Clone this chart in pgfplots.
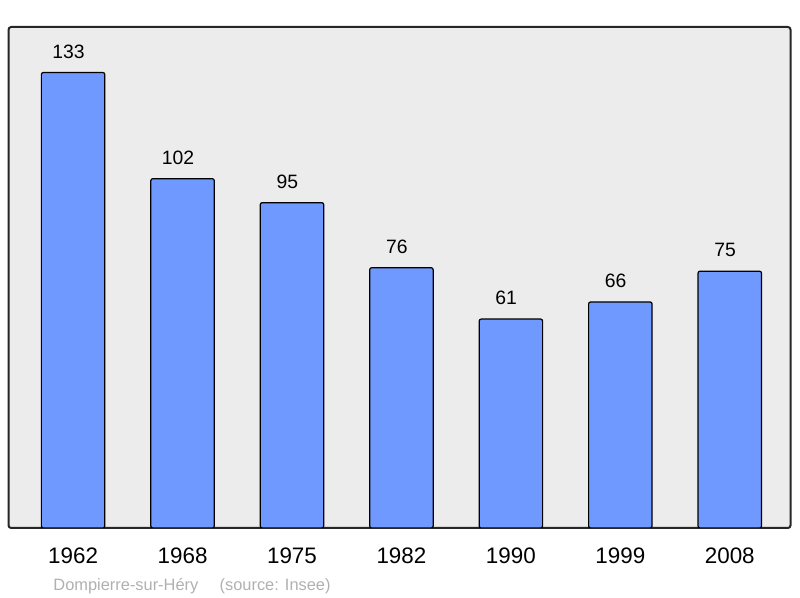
\documentclass[border=0pt]{standalone}
\usepackage{fontspec}
\setmainfont{Liberation Sans}
\usepackage{pgfplots}
\pgfplotsset{compat=1.18}

\definecolor{barblue}{HTML}{7099FF}
\definecolor{panel}{HTML}{ECECEC}
\definecolor{note}{HTML}{B0B0B0}

\begin{document}
\begin{tikzpicture}
  % page = 800x598 px, 1 px = 0.75pt
  \useasboundingbox (-6.4pt,-52.5pt) rectangle (593.6pt,396pt);
  \begin{axis}[
    at={(0,0)}, anchor=south west,
    scale only axis,
    width=586.5pt, height=375.75pt,
    ybar, bar width=0.58,
    xmin=-0.59, xmax=6.555,
    ymin=0, ymax=146.3,
    /pgf/number format/assume math mode=true,
    axis background/.style={fill=panel},
    axis line style={draw=black!85, line width=1.5pt, rounded corners=2pt},
    xtick=data,
    xticklabels={1962,1968,1975,1982,1990,1999,2008},
    xticklabel style={font=\fontsize{16.8}{18}\selectfont, anchor=base, yshift=-27pt},
    major tick length=0pt,
    ytick=\empty,
    nodes near coords,
    every node near coord/.append style={font=\fontsize{14.5}{16}\selectfont, anchor=base, yshift=10.8pt, xshift=-3.5pt},
  ]
    \addplot[fill=barblue, draw=black, line width=0.9pt, rounded corners=1.5pt] coordinates {
      (0,133) (1,102) (2,95) (3,76) (4,61) (5,66) (6,75)
    };
  \end{axis}
  \node[anchor=base west, text=note, font=\fontsize{12.3}{14}\selectfont, inner sep=0pt]
    at (33.5pt,-47pt) {Dompierre-sur-Héry\hspace{1.3em}(source: Insee)};
\end{tikzpicture}
\end{document}
